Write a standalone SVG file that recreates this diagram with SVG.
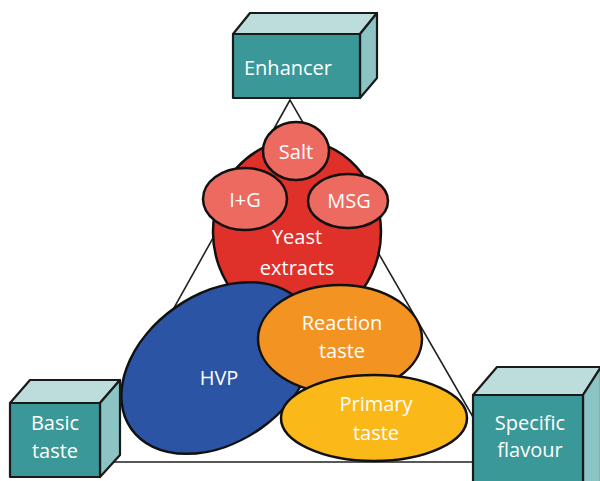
<svg xmlns="http://www.w3.org/2000/svg" width="600" height="481" viewBox="0 0 600 481">
  <style>
    .front { fill: #3a9899; stroke: #1a1a1a; stroke-width: 2.2; stroke-linejoin: round; }
    .top { fill: #bddcdc; stroke: #1a1a1a; stroke-width: 2.2; stroke-linejoin: round; }
    .side { fill: #8cc4c5; stroke: #1a1a1a; stroke-width: 2.2; stroke-linejoin: round; }
    .blob { stroke: #111; stroke-width: 2.5; }
    .lbl { font-family: "Open Sans", "Liberation Sans", sans-serif; font-size: 20px; fill: #ffffff; text-anchor: middle; }
    .link { fill: none; stroke: #222; stroke-width: 1.6; }
  </style>

  <!-- connecting triangle between the three categories -->
  <g id="connectors">
    <polygon class="link" points="290,100 88,462 499,462"/>
  </g>

  <!-- ingredient clusters -->
  <g id="yeast-extracts">
    <ellipse class="blob" cx="297" cy="232" rx="84" ry="92" fill="#e0302a"/>
    <text class="lbl" x="297" y="244">Yeast</text>
    <text class="lbl" x="297" y="275">extracts</text>
  </g>
  <g id="salt">
    <ellipse class="blob" cx="296" cy="151" rx="33" ry="29" fill="#ec6a60"/>
    <text class="lbl" x="296" y="159">Salt</text>
  </g>
  <g id="ig">
    <ellipse class="blob" cx="245" cy="199" rx="42" ry="31" fill="#ec6a60"/>
    <text class="lbl" x="245" y="207">I+G</text>
  </g>
  <g id="msg">
    <ellipse class="blob" cx="348" cy="201" rx="40" ry="27" fill="#ec6a60"/>
    <text class="lbl" x="349" y="208">MSG</text>
  </g>
  <g id="hvp">
    <ellipse class="blob" cx="218" cy="368" rx="106" ry="74" transform="rotate(-35 218 368)" fill="#2b54a4"/>
    <text class="lbl" x="219" y="385">HVP</text>
  </g>
  <g id="reaction-taste">
    <ellipse class="blob" cx="340" cy="339" rx="82" ry="54" fill="#f39322"/>
    <text class="lbl" x="342" y="330">Reaction</text>
    <text class="lbl" x="342" y="358">taste</text>
  </g>
  <g id="primary-taste">
    <ellipse class="blob" cx="374" cy="418" rx="93" ry="43" fill="#fbb819"/>
    <text class="lbl" x="376" y="411">Primary</text>
    <text class="lbl" x="376" y="440">taste</text>
  </g>

  <!-- category boxes -->
  <g id="enhancer">
    <polygon class="top" points="233,34 250,13 377,13 360,34"/>
    <polygon class="side" points="360,34 377,13 377,78 360,98"/>
    <rect class="front" x="233" y="34" width="127" height="64"/>
    <text class="lbl" x="288" y="75">Enhancer</text>
  </g>
  <g id="basic-taste">
    <polygon class="top" points="10,403 30,380 120,380 100,403"/>
    <polygon class="side" points="100,403 120,380 120,455 100,477"/>
    <rect class="front" x="10" y="403" width="90" height="74"/>
    <text class="lbl" x="55" y="430">Basic</text>
    <text class="lbl" x="55" y="458">taste</text>
  </g>
  <g id="specific-flavour">
    <polygon class="top" points="473,395 497,367 601,367 583,395"/>
    <polygon class="side" points="583,395 601,367 601,482 583,482"/>
    <rect class="front" x="473" y="395" width="110" height="90"/>
    <text class="lbl" x="530" y="430">Specific</text>
    <text class="lbl" x="530" y="457">flavour</text>
  </g>
</svg>
